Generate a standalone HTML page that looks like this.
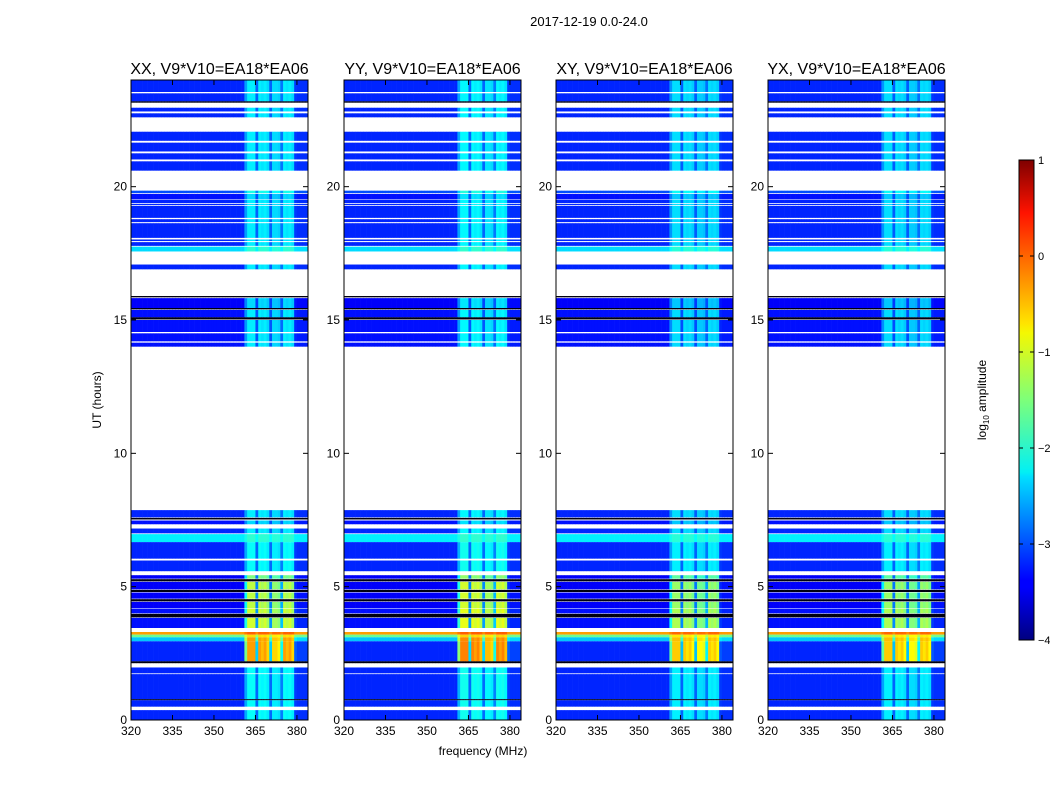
<!DOCTYPE html>
<html><head><meta charset="utf-8"><style>
body{margin:0;background:#fff;font-family:"Liberation Sans",sans-serif;}
svg text{font-family:"Liberation Sans",sans-serif;}
</style></head><body>
<svg id="fig" width="1050" height="800" xmlns="http://www.w3.org/2000/svg">
<text x="589" y="26" font-size="13" text-anchor="middle">2017-12-19 0.0-24.0</text>
<text x="483" y="755" font-size="12" text-anchor="middle">frequency (MHz)</text>
<text transform="translate(101,400) rotate(-90)" font-size="12" text-anchor="middle">UT (hours)</text>
<g id="panels"></g>
<defs><linearGradient id="jet" x1="0" y1="1" x2="0" y2="0">
<stop offset="0" stop-color="#00007f"/><stop offset="0.11" stop-color="#0000ff"/><stop offset="0.125" stop-color="#0000ff"/>
<stop offset="0.34" stop-color="#00dfff"/><stop offset="0.35" stop-color="#02f0f4"/><stop offset="0.5" stop-color="#7dff7a"/>
<stop offset="0.64" stop-color="#f4f802"/><stop offset="0.66" stop-color="#ffe400"/><stop offset="0.89" stop-color="#ff1300"/><stop offset="1" stop-color="#7f0000"/></linearGradient></defs>
<rect x="1019" y="160" width="15" height="480" fill="url(#jet)" stroke="#000" stroke-width="1"/>
<g id="cbticks"></g>
<text transform="translate(986,400) rotate(-90)" font-size="12" text-anchor="middle">log<tspan font-size="8" dy="3">10</tspan><tspan dy="-3"> amplitude</tspan></text>
</svg>
<script>
const titles=["XX, V9*V10=EA18*EA06","YY, V9*V10=EA18*EA06","XY, V9*V10=EA18*EA06","YX, V9*V10=EA18*EA06"];
const panelGain=[1.0,1.05,0.92,0.92];
const yTicks=[0,5,10,15,20];
const xTicks=[320,335,350,365,380];
const cbTicks=[1,0,-1,-2,-3,-4];
// channel profile for 320..383 MHz (RFI enhancement)
const freqProfile=[0,0,0,0,0,0,0,0,0,0,0,0,0,0,0,0,0,0,0,0,0,0,0,0,0,0,0,0,0,0,0,0,0,0,0,0,0,0,0,0,0,0.6,1,1,1,0.3,1,0.95,1,0.9,0.3,0.9,0.9,0.85,0.4,1,0.95,1,0.9,0.1,0.05,0.05,0.05,0.05];
// segments: [startHour, endHour, level, rfiGain]  (level -5 = flagged black)
const segments=[
[23.55,24,-3.2,1.0],[23.2,23.5,-3.2,1.0],[23.15,23.2,-5,0],[22.82,22.96,-3.2,1.0],[22.6,22.75,-3.2,1.0],
[21.72,22.06,-3.2,1.0],[21.32,21.65,-3.2,1.0],[21.02,21.25,-3.2,1.0],[20.6,20.95,-3.2,1.0],
[19.76,19.85,-3.0,1.0],[19.52,19.73,-3.3,1.0],[19.38,19.5,-3.2,1.0],[19.31,19.35,-3.2,1.0],[18.83,19.28,-3.2,1.0],
[18.67,18.78,-3.2,1.0],[18.08,18.63,-3.2,1.0],[17.96,18.02,-3.2,1.0],[17.78,17.92,-3.2,1.0],[17.57,17.75,-2.3,0.4],
[16.9,17.08,-3.2,1.0],
[15.85,15.9,-5,0],[15.45,15.82,-3.4,1.1],[15.4,15.45,-5,0],[15.1,15.38,-3.3,1.1],[15.02,15.1,-5,0],[14.55,15.0,-3.3,1.1],[14.2,14.5,-3.3,1.1],[14.0,14.15,-3.3,1.1],
[7.6,7.87,-3.2,1.0],[7.52,7.58,-5,0],[7.34,7.48,-3.3,1.0],[7.0,7.18,-3.2,1.0],[6.67,6.97,-2.2,0.3],[6.05,6.67,-3.2,1.1],[5.58,5.98,-3.2,1.1],
[5.3,5.43,-3.4,1.9],[5.2,5.28,-5,0],[4.9,5.18,-3.4,2.2],[4.8,4.88,-5,0],[4.55,4.78,-3.4,2.2],[4.45,4.53,-5,0],[4.2,4.43,-3.4,2.2],[4.0,4.18,-3.3,2.2],[3.85,3.98,-5,0],[3.45,3.83,-3.3,2.2],
[3.2,3.3,-0.4,0.3],[3.1,3.2,-1.6,0.9],[2.95,3.1,-2.4,2.0],[2.2,2.95,-3.2,2.8],[2.13,2.2,-5,0],
[1.75,1.97,-3.2,1.1],[0.78,1.72,-3.2,1.1],[0.74,0.78,-5,0],[0.5,0.74,-3.2,1.1],[0,0.37,-3.2,1.1]];
const panelX=[131,344,556,768], PW=177, PT=80, PB=720;
const fx=(x0,f)=>x0+(f-320)/64*PW;
const hy=h=>PB-h/24*(PB-PT);
function jet(v){let t=Math.max(0,Math.min(1,(v+4)/5));
 const c=x=>Math.round(255*Math.max(0,Math.min(1,1.5-Math.abs(4*t-x))));
 if(v<=-4.9)return'#000010';return`rgb(${c(3)},${c(2)},${c(1)})`;}
const NS="http://www.w3.org/2000/svg";
function mk(tag,attrs,parent){const e=document.createElementNS(NS,tag);for(const k in attrs)e.setAttribute(k,attrs[k]);parent.appendChild(e);return e;}
const G=document.getElementById('panels');
panelX.forEach((x0,p)=>{
 const g=mk('g',{},G);
 
 
 segments.forEach(s=>{
  const y1=hy(s[1]),y2=hy(s[0]);
  for(let i=0;i<freqProfile.length;i++){
   const v=s[2]+s[3]*panelGain[p]*freqProfile[i];
   const r=mk('rect',{x:fx(x0,320+i).toFixed(2),y:y1.toFixed(2),width:(PW/64+0.3).toFixed(2),height:(y2-y1).toFixed(2),fill:jet(v)},g);
   
   
  }
 });
 const fr=mk('rect',{x:x0,y:PT,width:PW,height:PB-PT,fill:'none',stroke:'#000','stroke-width':1},g);
 
 
 const t=mk('text',{x:x0+PW/2,y:74,'font-size':16,'text-anchor':'middle'},g);t.textContent=titles[p];
 
 
 yTicks.forEach(h=>{const y=hy(h);
  mk('line',{x1:x0,x2:x0+5,y1:y,y2:y,stroke:'#000'},g);mk('line',{x1:x0+PW-5,x2:x0+PW,y1:y,y2:y,stroke:'#000'},g);
  const l=mk('text',{x:x0-4,y:y+4,'font-size':12,'text-anchor':'end'},g);l.textContent=h;
  
  });
 xTicks.forEach(f=>{const x=fx(x0,f);
  mk('line',{x1:x,x2:x,y1:PB,y2:PB-5,stroke:'#000'},g);mk('line',{x1:x,x2:x,y1:PT,y2:PT+5,stroke:'#000'},g);
  const l=mk('text',{x:x,y:PB+15,'font-size':12,'text-anchor':'middle'},g);l.textContent=f;
  
  });
});
const CB=document.getElementById('cbticks');
cbTicks.forEach(v=>{const y=160+(1-v)/5*480;
 mk('line',{x1:1019,x2:1023,y1:y,y2:y,stroke:'#000'},CB);mk('line',{x1:1030,x2:1034,y1:y,y2:y,stroke:'#000'},CB);
 const l=mk('text',{x:1038,y:y+4,'font-size':11},CB);l.textContent=v<0?'\u2212'+(-v):v;
 
 });
</script>
</body></html>
